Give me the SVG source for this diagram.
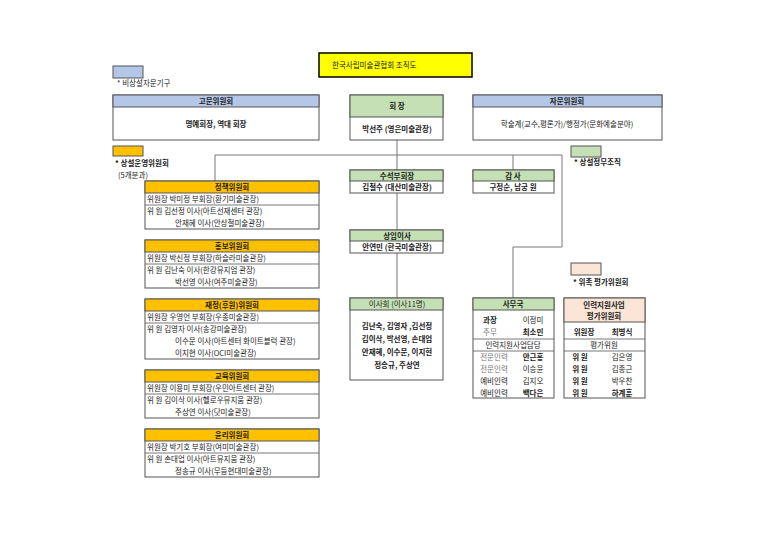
<svg xmlns="http://www.w3.org/2000/svg" width="768" height="543" viewBox="0 0 768 543">
<style>
text{font-family:"Noto Sans CJK KR","Noto Sans",sans-serif;font-size:7.5px;fill:#222}
.c{text-anchor:middle}
.b{font-weight:bold}
.box{fill:#fff;stroke:#555;stroke-width:1}
.blue{fill:#b4c7e7;stroke:#555;stroke-width:1}
.org{fill:#ffc000;stroke:#555;stroke-width:1}
.grn{fill:#c5e0b4;stroke:#555;stroke-width:1}
.pch{fill:#fbe5d6;stroke:#555;stroke-width:1}
.ln{stroke:#555;stroke-width:0.8}
.con{fill:none;stroke:#777;stroke-width:1}
</style>
<rect width="768" height="543" fill="#fff"/>
<g id="title"><rect x="319" y="53" width="153" height="24" fill="#ffff00" stroke="#000" stroke-width="1.5"/><text x="332" y="68">한국사립미술관협회 조직도</text></g>
<g id="legends">
<rect x="113" y="66" width="30" height="12" class="blue"/><text x="117" y="86">* 비상설자문기구</text>
<rect x="113" y="146" width="30" height="10" class="org"/><text x="115" y="166" class="b">* 상설운영위원회</text><text x="118" y="178">(5개분과)</text>
<rect x="571" y="146" width="30" height="11" class="grn"/><text x="574" y="165" class="b">* 상설정무조직</text>
<rect x="571" y="263" width="30" height="12" class="pch"/><text x="573" y="285" class="b">* 위촉 평가위원회</text>
</g>
<g id="connectors">
<path class="con" d="M397 140V298M215 181V155H562V247H513V298M513 155V170"/>
</g>
<g id="gomun"><rect x="113" y="95" width="206" height="45" class="box"/><rect x="113" y="95" width="206" height="12" class="blue"/><text x="216" y="104" class="c b">고문위원회</text><text x="216" y="127" class="c b">명예회장, 역대 회장</text></g>
<g id="hoejang"><rect x="350" y="95" width="93" height="45" class="box"/><rect x="350" y="95" width="93" height="22" class="grn"/><text x="397" y="109" class="c b">회  장</text><text x="397" y="132" class="c b">박선주 (영은미술관장)</text></g>
<g id="jamun"><rect x="473" y="95" width="189" height="45" class="box"/><rect x="473" y="95" width="189" height="12" class="blue"/><text x="567" y="104" class="c b">자문위원회</text><text x="567" y="127" class="c">학술계(교수,평론가)/행정가(문화예술분야)</text></g>
<g id="suseok"><rect x="350" y="170" width="93" height="23" class="box"/><rect x="350" y="170" width="93" height="11" class="grn"/><text x="397" y="179" class="c b">수석부회장</text><text x="397" y="190" class="c b">김철수 (대산미술관장)</text></g>
<g id="gamsa"><rect x="473" y="170" width="81" height="23" class="box"/><rect x="473" y="170" width="81" height="11" class="grn"/><text x="513" y="179" class="c b">감  사</text><text x="513" y="190" class="c b">구정순, 남궁 원</text></g>
<g id="sangim"><rect x="350" y="230" width="93" height="23" class="box"/><rect x="350" y="230" width="93" height="11" class="grn"/><text x="397" y="239" class="c b">상임이사</text><text x="397" y="250" class="c b">안연민 (한국미술관장)</text></g>
<g id="isahoe"><rect x="350" y="298" width="93" height="82" class="box"/><rect x="350" y="298" width="93" height="12" class="grn"/><text x="397" y="307" class="c">이사회 (이사11명)</text>
<text x="397" y="329" class="c b">김난숙, 김영자 ,김선정</text><text x="397" y="342" class="c b">김이삭, 박선영, 손대업</text><text x="397" y="355" class="c b">안재혜, 이수문, 이지현</text><text x="397" y="368" class="c b">정송규, 주상연</text></g>
<g id="samuguk"><rect x="473" y="298" width="81" height="100" class="box"/><rect x="473" y="298" width="81" height="12" class="grn"/><text x="513" y="307" class="c b">사무국</text>
<line x1="473" y1="339" x2="554" y2="339" class="ln"/><line x1="473" y1="351" x2="554" y2="351" class="ln"/>
<text x="490" y="323" class="c b">과장</text><text x="533" y="323" class="c">이정미</text>
<text x="490" y="335" class="c" fill="#777" style="fill:#777">주무</text><text x="533" y="335" class="c b">최소민</text>
<text x="513" y="348" class="c">인력지원사업담당</text>
<text x="494" y="360" class="c" style="fill:#777">전문인력</text><text x="533" y="360" class="c b">안근홍</text>
<text x="494" y="372" class="c" style="fill:#777">전문인력</text><text x="533" y="372" class="c">이승윤</text>
<text x="494" y="384" class="c">예비인력</text><text x="533" y="384" class="c">김지오</text>
<text x="494" y="396" class="c">예비인력</text><text x="533" y="396" class="c b">백다은</text></g>
<g id="pyeongga"><rect x="564" y="298" width="81" height="100" class="box"/><rect x="564" y="298" width="81" height="24" class="pch"/><text x="604" y="308" class="c b">인력지원사업</text><text x="604" y="319" class="c b">평가위원회</text>
<line x1="564" y1="339" x2="645" y2="339" class="ln"/><line x1="564" y1="351" x2="645" y2="351" class="ln"/>
<text x="584" y="335" class="c b">위원장</text><text x="622" y="335" class="c b">최병식</text>
<text x="604" y="348" class="c">평가위원</text>
<text x="580" y="360" class="c b">위 원</text><text x="622" y="360" class="c">김은영</text>
<text x="580" y="372" class="c b">위 원</text><text x="622" y="372" class="c">김종근</text>
<text x="580" y="384" class="c b">위 원</text><text x="622" y="384" class="c">박우찬</text>
<text x="580" y="396" class="c b">위 원</text><text x="622" y="396" class="c b">하계훈</text></g>
<g id="jeongchaek"><rect x="145" y="181" width="174" height="48" class="box"/><rect x="145" y="181" width="174" height="12" class="org"/><line x1="145" y1="205" x2="319" y2="205" class="ln"/><text x="232" y="190" class="c b">정책위원회</text>
<text x="147" y="202">위원장 박미정 부회장(환기미술관장)</text><text x="147" y="214">위    원 김선정 이사(아트선재센터 관장)</text><text x="175" y="226">안재혜 이사(안상철미술관장)</text></g>
<g id="hongbo"><rect x="145" y="240" width="174" height="48" class="box"/><rect x="145" y="240" width="174" height="12" class="org"/><line x1="145" y1="264" x2="319" y2="264" class="ln"/><text x="232" y="249" class="c b">홍보위원회</text>
<text x="147" y="261">위원장 박신정 부회장(하슬라미술관장)</text><text x="147" y="273">위    원 김난숙 이사(한강뮤지엄 관장)</text><text x="175" y="285">박선영 이사(여주미술관장)</text></g>
<g id="jaejeong"><rect x="145" y="299" width="174" height="60" class="box"/><rect x="145" y="299" width="174" height="12" class="org"/><line x1="145" y1="323" x2="319" y2="323" class="ln"/><text x="232" y="308" class="c b">재정(후원)위원회</text>
<text x="147" y="320">위원장 우영언 부회장(우종미술관장)</text><text x="147" y="332">위    원 김영자 이사(송강미술관장)</text><text x="175" y="344">이수문 이사(아트센터 화이트블럭 관장)</text><text x="175" y="356">이지현 이사(OCI미술관장)</text></g>
<g id="gyoyuk"><rect x="145" y="370" width="174" height="48" class="box"/><rect x="145" y="370" width="174" height="12" class="org"/><line x1="145" y1="394" x2="319" y2="394" class="ln"/><text x="232" y="379" class="c b">교육위원회</text>
<text x="147" y="391">위원장 이용미 부회장(우민아트센터 관장)</text><text x="147" y="403">위    원 김이삭 이사(헬로우뮤지움 관장)</text><text x="175" y="415">주상연 이사(닷미술관장)</text></g>
<g id="yulli"><rect x="145" y="429" width="174" height="48" class="box"/><rect x="145" y="429" width="174" height="12" class="org"/><line x1="145" y1="453" x2="319" y2="453" class="ln"/><text x="232" y="438" class="c b">윤리위원회</text>
<text x="147" y="450">위원장 박기호 부회장(여미미술관장)</text><text x="147" y="462">위    원 손대업 이사(아트뮤지움 관장)</text><text x="175" y="474">정송규 이사(무등현대미술관장)</text></g>
</svg>
